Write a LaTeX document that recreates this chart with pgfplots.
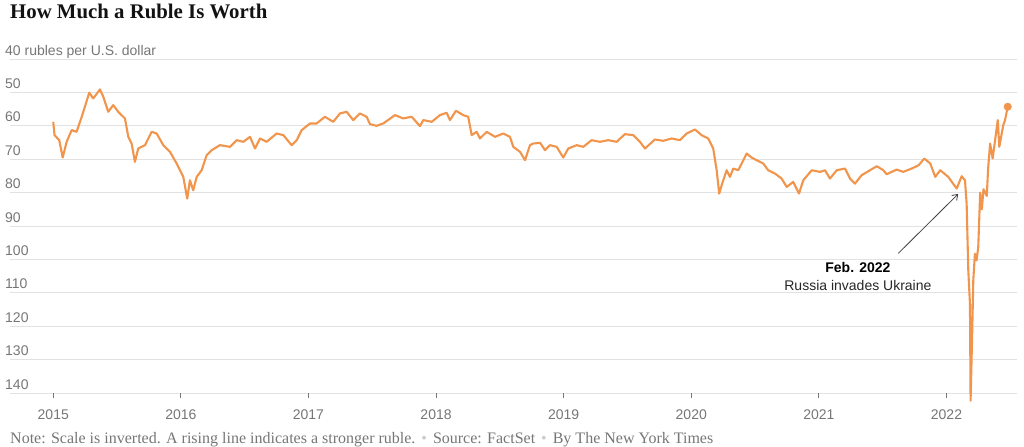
\documentclass[border=0pt]{standalone}
\usepackage{pgfplots}
\pgfplotsset{compat=1.18}
\usetikzlibrary{arrows.meta}
\usepackage{fontspec}
\setmainfont{Liberation Sans}
\newfontfamily\seriffont{Liberation Serif}
\definecolor{rub}{RGB}{241,148,76}
\definecolor{gridc}{RGB}{226,226,226}
\definecolor{txtgrey}{RGB}{118,118,118}
\definecolor{ttl}{RGB}{18,18,18}
\definecolor{dotc}{RGB}{205,205,205}
\begin{document}
\begin{tikzpicture}
\path[use as bounding box] (0,0) rectangle (1024bp,447bp);
\node[anchor=base west, inner sep=0pt, font=\seriffont\bfseries\fontsize{20.8bp}{24bp}\selectfont, text=ttl] at (10bp,428.7bp) {How Much a Ruble Is Worth};
\node[anchor=base west, inner sep=0pt, font=\seriffont\fontsize{16bp}{18bp}\selectfont, text=txtgrey] at (10bp,4bp) {Note: Scale is inverted. A rising line indicates a stronger ruble.\hspace{6bp}{\color{dotc}•}\hspace{6bp}Source: FactSet\hspace{6bp}{\color{dotc}•}\hspace{6bp}By The New York Times};
\begin{axis}[
  at={(10bp,54bp)}, anchor=south west,
  width=1006.7bp, height=334bp, scale only axis,
  xmin=2014.661, xmax=2022.550, ymin=40, ymax=140, y dir=reverse,
  clip=false,
  axis line style={draw=none},
  /pgf/number format/assume math mode=true,
  xtick={2015,2016,2017,2018,2019,2020,2021,2022},
  xticklabels={2015,2016,2017,2018,2019,2020,2021,2022},
  xtick pos=lower, xticklabel pos=lower,
  ytick={40,50,60,70,80,90,100,110,120,130,140},
  yticklabels={40 rubles per U.S. dollar,50,60,70,80,90,100,110,120,130,140},
  tick align=outside, major tick length=5bp,
  xtick style={draw=txtgrey, line width=0.8bp},
  ytick style={draw=none},
  ymajorgrids, major grid style={draw=gridc, line width=1bp},
  tick label style={font=\fontsize{14bp}{16bp}\selectfont, text=txtgrey},
  yticklabel style={anchor=base west, inner sep=0pt, yshift=4bp},
  xticklabel style={anchor=base, inner sep=0pt, yshift=-21bp},
]
\addplot[rub, line width=2.1bp, line join=round] coordinates {
(2015.000,58.8) (2015.010,62.8) (2015.047,64.3) (2015.074,69.5) (2015.105,64.8)
(2015.144,61.3) (2015.183,61.8) (2015.223,57.3) (2015.248,54.3) (2015.282,50.1)
(2015.313,51.8) (2015.366,49.1) (2015.392,51.3) (2015.431,55.8) (2015.470,53.8)
(2015.509,55.8) (2015.562,57.8) (2015.588,63.3) (2015.614,65.3) (2015.640,70.8)
(2015.666,66.8) (2015.719,65.8) (2015.771,61.8) (2015.810,62.3) (2015.862,65.8)
(2015.915,67.8) (2015.967,71.3) (2016.019,75.3) (2016.050,81.8) (2016.071,76.3)
(2016.097,79.3) (2016.124,75.3) (2016.163,73.3) (2016.202,68.8) (2016.241,67.3)
(2016.306,65.8) (2016.385,66.3) (2016.437,64.3) (2016.489,64.8) (2016.542,63.3)
(2016.581,66.8) (2016.620,63.8) (2016.672,64.8) (2016.751,62.3) (2016.803,62.8)
(2016.868,65.8) (2016.908,64.3) (2016.947,61.3) (2017.012,59.3) (2017.064,59.3)
(2017.129,57.3) (2017.194,58.8) (2017.247,56.3) (2017.299,55.8) (2017.351,58.3)
(2017.404,56.3) (2017.456,57.3) (2017.482,59.5) (2017.534,60.0) (2017.586,59.3)
(2017.678,56.8) (2017.743,57.8) (2017.809,57.3) (2017.874,60.1) (2017.900,58.3)
(2017.966,58.8) (2018.031,56.8) (2018.083,56.1) (2018.109,58.3) (2018.156,55.5)
(2018.213,56.8) (2018.252,57.3) (2018.279,62.8) (2018.318,61.8) (2018.344,63.8)
(2018.397,61.8) (2018.462,63.3) (2018.527,62.3) (2018.579,63.3) (2018.605,66.3)
(2018.658,67.8) (2018.697,70.3) (2018.736,65.8) (2018.762,65.3) (2018.815,65.1)
(2018.854,67.3) (2018.893,65.8) (2018.945,66.3) (2018.997,69.5) (2019.036,66.8)
(2019.102,65.8) (2019.154,66.3) (2019.219,64.3) (2019.284,64.8) (2019.349,64.3)
(2019.415,64.8) (2019.480,62.5) (2019.545,62.8) (2019.598,64.8) (2019.637,66.8)
(2019.715,64.1) (2019.781,64.5) (2019.846,63.8) (2019.911,64.3) (2019.964,62.3)
(2020.029,61.1) (2020.081,62.8) (2020.133,63.8) (2020.172,66.8) (2020.199,73.3)
(2020.219,80.3) (2020.238,77.8) (2020.277,73.3) (2020.303,75.3) (2020.329,72.8)
(2020.368,73.3) (2020.395,71.3) (2020.434,68.3) (2020.473,69.5) (2020.512,70.3)
(2020.564,71.3) (2020.603,73.3) (2020.656,74.3) (2020.708,75.8) (2020.748,78.3)
(2020.799,76.8) (2020.844,80.3) (2020.878,76.3) (2020.944,73.3) (2021.009,73.8)
(2021.048,73.3) (2021.087,75.8) (2021.140,73.3) (2021.205,72.8) (2021.244,75.8)
(2021.283,77.3) (2021.335,74.8) (2021.401,73.3) (2021.454,72.1) (2021.505,73.3)
(2021.531,74.5) (2021.610,73.1) (2021.661,73.8) (2021.727,72.8) (2021.782,71.8)
(2021.826,69.8) (2021.873,71.3) (2021.912,75.3) (2021.951,73.3) (2022.014,75.3)
(2022.080,78.8) (2022.119,75.1) (2022.145,76.3) (2022.158,83.3) (2022.171,103.3)
(2022.184,113.3) (2022.189,142.3) (2022.202,121.3) (2022.210,106.3) (2022.223,98.3)
(2022.236,100.3) (2022.249,96.3) (2022.264,80.0) (2022.277,85.0) (2022.290,79.0)
(2022.316,81.0) (2022.326,73.0) (2022.342,65.3) (2022.362,69.8) (2022.381,64.3)
(2022.402,58.3) (2022.414,66.3) (2022.445,59.8) (2022.459,58.3) (2022.480,54.3)
};
\addplot[rub, only marks, mark=*, mark size=3.8bp, mark options={fill=rub, draw=rub}] coordinates {(2022.480,54.3)};
\draw[-{Straight Barb[length=5bp,width=7bp]}, draw=black!75, line width=0.8bp] (axis cs:2021.622,98.2) -- (axis cs:2022.092,80.4);
\node[anchor=base, inner sep=0pt, font=\bfseries\fontsize{14bp}{16bp}\selectfont, text=black] at (axis cs:2021.306,104.0) {Feb. 2022};
\node[anchor=base, inner sep=0pt, font=\fontsize{14bp}{16bp}\selectfont, text=black!85] at (axis cs:2021.306,109.2) {Russia invades Ukraine};
\end{axis}
\end{tikzpicture}
\end{document}
